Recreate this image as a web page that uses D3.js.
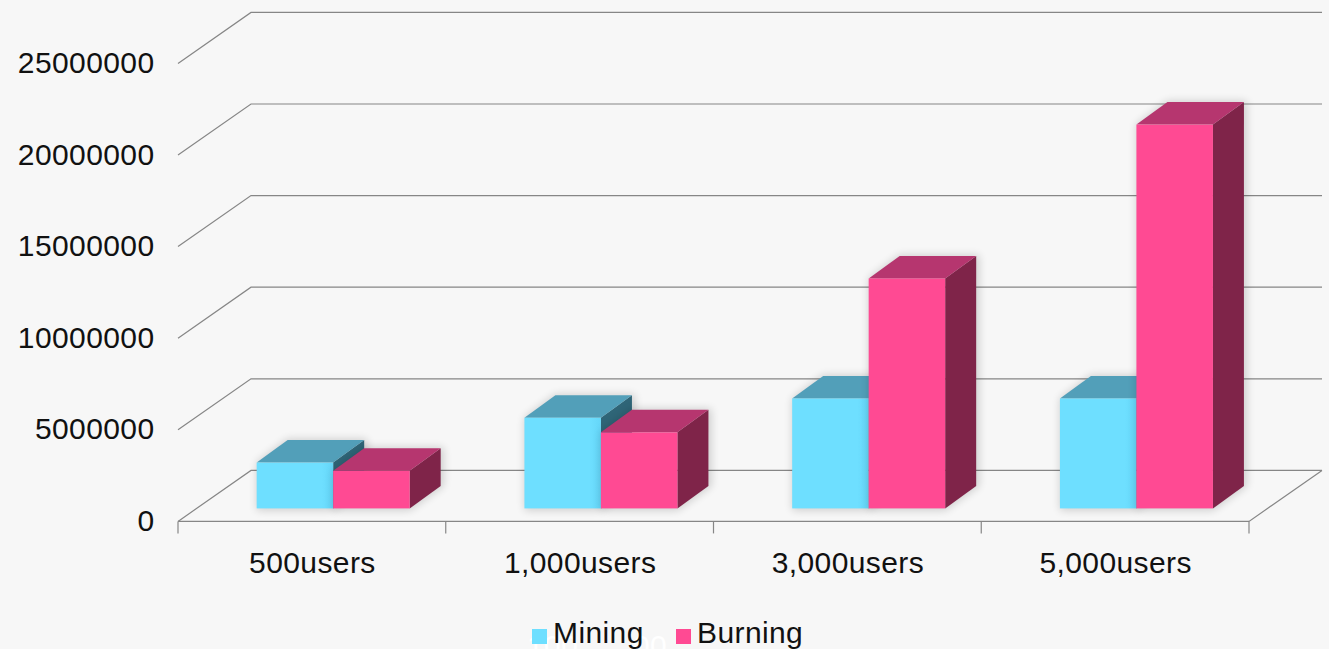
<!DOCTYPE html>
<html>
<head>
<meta charset="utf-8">
<script src="https://cdnjs.cloudflare.com/ajax/libs/d3/7.8.5/d3.min.js"></script>
<style>
  html, body { margin: 0; padding: 0; background: #f7f7f7; overflow: hidden; }
  text { font-family: "Liberation Sans", Arial, sans-serif; font-size: 30px; letter-spacing: 0.4px; fill: #111; }
</style>
</head>
<body>
<div id="chart"></div>
<script>
const categories = ['500users', '1,000users', '3,000users', '5,000users'];
const seriesNames = ['Mining', 'Burning'];
const mining = [2500000, 4950000, 6000000, 6000000];
const burning = [2050000, 4150000, 12550000, 20950000];
const yTicks = [0, 5000000, 10000000, 15000000, 20000000, 25000000];
const seriesColors = ['#6edfff', '#ff4a93'];
const topColors = ['#529fb9', '#b6366f'];
const sideColors = ['#2f6577', '#7f2449'];
const ghostLabels = ['100', '00'];

const width = 1329;
const height = 649;

const svg = d3.select('#chart')
  .append('svg')
  .attr('width', width)
  .attr('height', height)
  .attr('viewBox', [0, 0, width, height]);

const defs = svg.append('defs');
const blur = defs.append('filter').attr('id', 'shadow')
  .attr('x', '-20%').attr('y', '-20%').attr('width', '140%').attr('height', '140%');
blur.append('feGaussianBlur').attr('stdDeviation', 4);

const edge = defs.append('linearGradient').attr('id', 'miningFront');
edge.append('stop').attr('offset', '85%').attr('stop-color', seriesColors[0]);
edge.append('stop').attr('offset', '100%').attr('stop-color', '#65d6f8');

// floor and back wall of the 3d box
const x = d3.scaleBand().domain(categories).range([178, 1249]);
const y = d3.scaleLinear().domain([0, 25000000]).range([521.4, 63.4]);
const wall = { dx: 73, dy: -51 };
const barBase = { dx: 21.3, dy: -13 };
const barDepth = { dx: 31, dy: -22.5 };

const x1 = d3.scaleBand().domain(seriesNames).range([-76.5, 76.5]);
const line = d3.line();
const gridColor = '#868686';

const grid = svg.append('g').attr('fill', 'none').attr('stroke', gridColor).attr('stroke-width', 1.2);
grid.selectAll('path.wall')
  .data(yTicks)
  .join('path')
  .attr('class', 'wall')
  .attr('d', d => line([
    [x.range()[0], y(d)],
    [x.range()[0] + wall.dx, y(d) + wall.dy],
    [x.range()[1] + wall.dx, y(d) + wall.dy]
  ]));
grid.append('path').attr('d', line([
  [x.range()[0], y(0)],
  [x.range()[1], y(0)],
  [x.range()[1] + wall.dx, y(0) + wall.dy]
]));
grid.selectAll('line.tick')
  .data(categories.concat(['end']))
  .join('line')
  .attr('class', 'tick')
  .attr('x1', (d, i) => x.range()[0] + i * x.step())
  .attr('x2', (d, i) => x.range()[0] + i * x.step())
  .attr('y1', y(0))
  .attr('y2', y(0) + 12);

// y labels
svg.append('g').selectAll('text')
  .data(yTicks)
  .join('text')
  .attr('x', 154.5)
  .attr('y', d => y(d) - 1)
  .attr('dy', '0.35em')
  .attr('text-anchor', 'end')
  .text(d => d);

// category labels
svg.append('g').selectAll('text')
  .data(categories)
  .join('text')
  .attr('x', d => x(d) + x.bandwidth() / 2 + 0.5)
  .attr('y', 573)
  .attr('text-anchor', 'middle')
  .text(d => d);

// bars
const rows = categories.flatMap((c, i) => [
  { cat: c, s: 0, name: seriesNames[0], value: mining[i] },
  { cat: c, s: 1, name: seriesNames[1], value: burning[i] }
]);

const barY = v => y(v) + barBase.dy;

const bars = svg.append('g').selectAll('g')
  .data(rows)
  .join('g')
  .attr('transform', d => `translate(${x(d.cat) + x.bandwidth() / 2 + barBase.dx + x1(d.name)},0)`);

// soft shadow drawn first, so it stays behind each box
bars.append('path')
  .attr('fill', '#000')
  .attr('opacity', 0.16)
  .attr('filter', 'url(#shadow)')
  .attr('d', d => {
    const w = x1.bandwidth(), t = barY(d.value), b = barY(0);
    return line([[0, b + 2], [w, b + 2], [w + barDepth.dx + 3, b + barDepth.dy], [w + barDepth.dx + 3, t + barDepth.dy - 1], [barDepth.dx, t + barDepth.dy - 1], [0, t]]) + 'Z';
  });

bars.append('path')
  .attr('fill', d => sideColors[d.s])
  .attr('d', d => {
    const w = x1.bandwidth(), t = barY(d.value), b = barY(0);
    return line([[w, t], [w + barDepth.dx, t + barDepth.dy], [w + barDepth.dx, b + barDepth.dy], [w, b]]) + 'Z';
  });

bars.append('path')
  .attr('fill', d => topColors[d.s])
  .attr('d', d => {
    const w = x1.bandwidth(), t = barY(d.value);
    return line([[0, t], [barDepth.dx, t + barDepth.dy], [w + barDepth.dx, t + barDepth.dy], [w, t]]) + 'Z';
  });

bars.append('rect')
  .attr('fill', d => d.s === 0 ? 'url(#miningFront)' : seriesColors[d.s])
  .attr('x', 0)
  .attr('y', d => barY(d.value))
  .attr('width', x1.bandwidth())
  .attr('height', d => barY(0) - barY(d.value));

// faint white digits that sit behind the legend in the original
const ghostX = [527, 633];
svg.append('g').selectAll('text')
  .data(ghostLabels)
  .join('text')
  .attr('x', (d, i) => ghostX[i])
  .attr('y', 656)
  .style('fill', '#fff')
  .text(d => d);

// legend
const legendX = [532, 676];
const legend = svg.append('g').selectAll('g')
  .data(seriesNames)
  .join('g')
  .attr('transform', (d, i) => `translate(${legendX[i]},629)`);
legend.append('rect')
  .attr('width', 15)
  .attr('height', 15)
  .attr('fill', (d, i) => seriesColors[i]);
legend.append('text')
  .attr('x', 21)
  .attr('y', 14)
  .text(d => d);
</script>
</body>
</html>
